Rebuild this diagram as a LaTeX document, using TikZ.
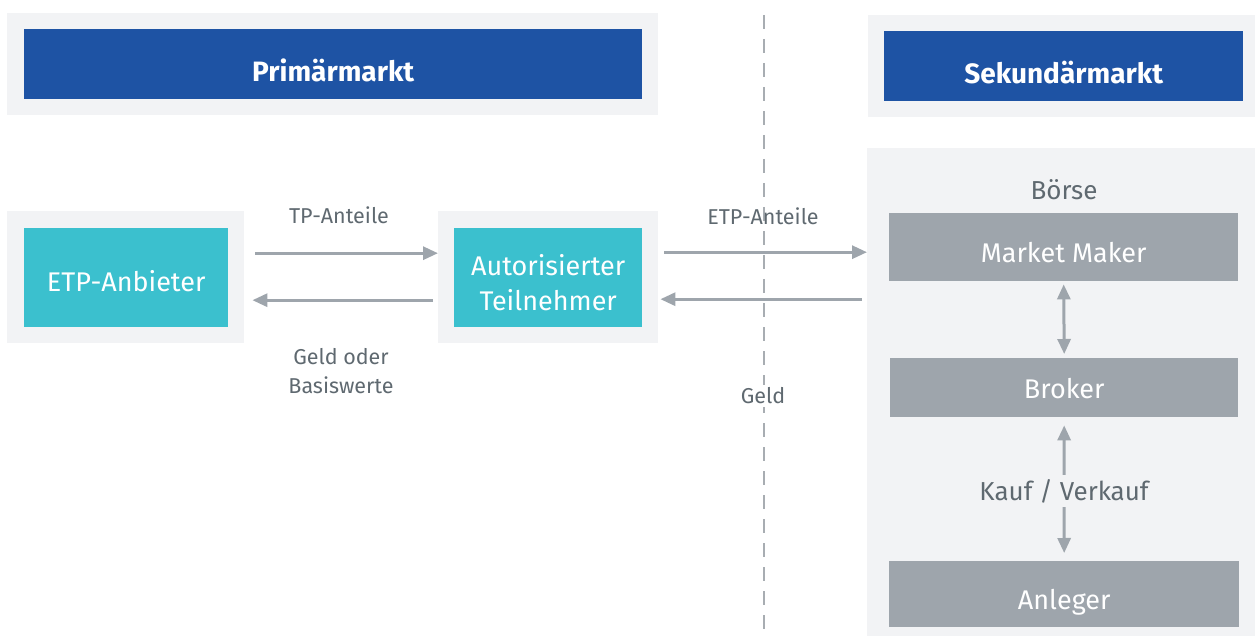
\documentclass[tikz,border=0pt]{standalone}
\usepackage{fontspec}
\setmainfont{Fira Sans}
\usetikzlibrary{arrows.meta,calc}
\definecolor{bgray}{HTML}{F2F3F5}
\definecolor{hblue}{HTML}{1E53A4}
\definecolor{teal}{HTML}{3BC0CE}
\definecolor{bxgray}{HTML}{9EA5AC}
\definecolor{argray}{HTML}{9EA5AC}
\definecolor{txgray}{HTML}{5F6970}
\definecolor{dashgray}{HTML}{A8ADB2}
\newcommand{\light}{\addfontfeatures{Weight=300}}
\tikzset{
  panel/.style={fill=bgray, draw=none, inner sep=0pt, anchor=north west},
  header/.style={fill=hblue, text=white, font=\fontsize{28}{30}\selectfont\bfseries, inner sep=0pt, anchor=north west, text height=35pt, text depth=0pt},
  tealbox/.style={fill=teal, text=white, font=\fontsize{27}{35}\selectfont\light, inner sep=0pt, anchor=north west, align=center},
  aptext/.style={text=white, font=\fontsize{27}{35}\selectfont\light, inner sep=0pt, align=center},
  graybox/.style={fill=bxgray, text=white, font=\fontsize{27}{30}\selectfont\light, inner sep=0pt, anchor=north west, text height=30.5pt, text depth=0pt},
  lbl/.style={text=txgray, font=\fontsize{21.5}{29}\selectfont\light, align=center, inner sep=0pt},
  biglbl/.style={text=txgray, font=\fontsize{26}{30}\selectfont\light, inner sep=0pt},
  arr/.style={draw=argray, line width=3pt, -{Triangle[length=15pt,width=13pt]}},
  darr/.style={draw=argray, line width=3pt, {Triangle[length=15pt,width=13pt]}-{Triangle[length=15pt,width=13pt]}}
}
\begin{document}
\begin{tikzpicture}[x=1pt,y=-1pt]
\useasboundingbox (0,0) rectangle (1255,636);
% header panels
\node[panel, minimum width=651pt, minimum height=102pt] (hp1) at (7,13) {};
\node[header, minimum width=618pt, minimum height=70pt] (h1) at (24,29) {Primärmarkt};
\node[panel, minimum width=387pt, minimum height=102pt] (hp2) at (868,15) {};
\node[header, minimum width=359pt, minimum height=70pt] (h2) at (884,31) {Sekundärmarkt};
% dashed divider
\coordinate (dtop) at (764,15);
\coordinate (dbot) at (764,636);
\draw[dashgray, line width=2pt, dash pattern=on 14pt off 10pt] (dtop) -- (dbot);
% primary market
\node[panel, minimum width=237pt, minimum height=132pt] (bg1) at (7,211) {};
\node[tealbox, minimum width=204pt, minimum height=99pt, text height=28.6pt, text depth=0pt] (etp) at (24,227.5) {ETP-Anbieter};
\node[panel, minimum width=220pt, minimum height=132pt] (bg2) at (438,211) {};
\node[tealbox, minimum width=188pt, minimum height=99pt,
      label={[aptext, yshift=-5pt]center:Autorisierter\\Teilnehmer}] (ap) at (454,227.5) {};
% secondary market
\node[panel, minimum width=388pt, minimum height=488pt] (boerse) at (867,148) {};
\node[biglbl] (bt) at (1064,190) {Börse};
\node[graybox, minimum width=349pt, minimum height=68pt] (mm) at (889,213) {Market Maker};
\node[graybox, minimum width=348pt, minimum height=59pt, text height=21.6pt] (br) at (890,358) {Broker};
\node[graybox, minimum width=350pt, minimum height=66pt] (an) at (889,561) {Anleger};
\node[biglbl, fill=bgray, inner sep=4pt] (kv) at (1064,491) {Kauf / Verkauf};
% labels
\node[lbl] (l1) at (339,215) {TP-Anteile};
\node[lbl] (l2) at (341,371) {Geld oder\\Basiswerte};
\node[lbl] (l3) at (763,216) {ETP-Anteile};
\node[lbl, fill=white, inner sep=3pt] (l4) at (763,396) {Geld};
% connectors
\draw[arr] ([xshift=11pt,yshift=24pt]bg1.east) -- ([yshift=24pt]bg1.east -| bg2.west);
\draw[arr] ([xshift=-5pt,yshift=-23pt]bg2.west) -- ([xshift=8pt,yshift=-23pt]bg1.east);
\draw[arr] ([xshift=6pt,yshift=25pt]bg2.east) -- ([yshift=25pt]bg2.east -| boerse.west);
\draw[arr] ([yshift=-22pt]bg2.east -| boerse.west) ++(-5pt,0) -- ([xshift=2pt,yshift=-22pt]bg2.east);
\draw[darr] ([yshift=-3pt]mm.south) -- ([yshift=4pt]br.north);
\draw[arr] (kv.north) -- ([yshift=-8pt]br.south);
\draw[arr] (kv.south) -- ([yshift=8pt]an.north);
\end{tikzpicture}
\end{document}
